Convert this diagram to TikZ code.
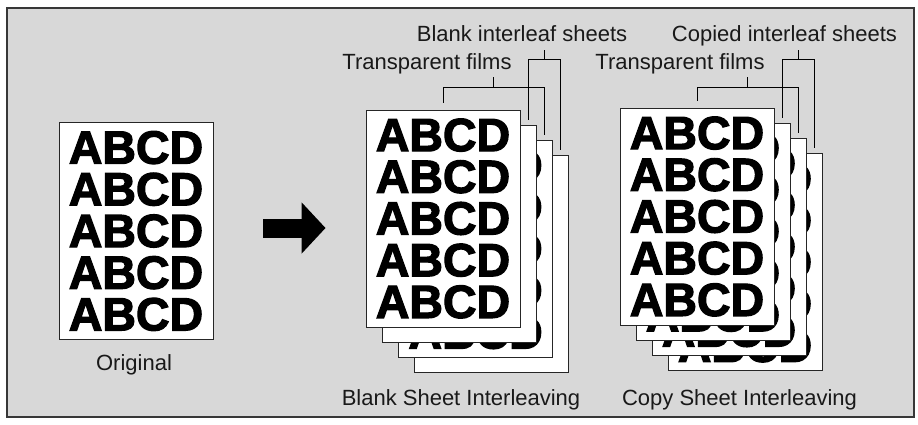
\documentclass[tikz,border=0pt]{standalone}
\usepackage{fontspec}
\setmainfont{Liberation Sans}
\newfontfamily\blockfont[FakeBold=2.6]{Liberation Sans Bold}
\usepackage{tikz}
\usetikzlibrary{positioning,calc,arrows.meta}
\definecolor{panelgrey}{RGB}{216,216,216}
\definecolor{framegrey}{RGB}{55,55,55}

\newcommand{\abcdrows}{ABCD\\ABCD\\ABCD\\ABCD\\ABCD}

\begin{document}
\begin{tikzpicture}[x=1pt, y=-1pt,
  sheet/.style={rectangle, draw=black!85, fill=white, line width=0.9pt, inner sep=0pt,
    minimum width=154pt, minimum height=217pt, align=center,
    font=\blockfont\fontsize{46.5}{41.7}\selectfont},
  label/.style={font=\fontsize{22}{26}\selectfont, text=black!90, inner sep=0pt, anchor=base},
  leader/.style={draw=black, line width=0.9pt},
  bigarrow/.style={-{Triangle[length=24pt,width=50pt]}, line width=19pt}]

  % panel
  \useasboundingbox (0,0) rectangle (918,424);
  \draw[framegrey, line width=2pt, fill=panelgrey] (7,8) rectangle (914,417);

  % original
  \node[sheet] (orig) at (136,231) {\abcdrows};
  \node[label] (origlbl) at (134,370) {Original};

  % blank sheet interleaving (back to front)
  \foreach \i/\txt in {3/{},2/\abcdrows,1/{},0/\abcdrows}
    \node[sheet] (bl\i) at ({443+16.3*\i},{218.5+15.3*\i}) {\txt};
  % copy sheet interleaving
  \foreach \i in {3,2,1,0}
    \node[sheet] (cp\i) at ({697+16*\i},{216.5+15.3*\i}) {\abcdrows};

  \coordinate (arrowstart) at ([xshift=50pt,yshift=3pt]orig.east);
  \coordinate (arrowtip) at ([xshift=-40pt]bl0.west);
  \draw[bigarrow] (arrowstart) -- (arrowtip |- arrowstart);

  % labels
  \node[label] (tfA) at (427,69) {Transparent films};
  \node[label] (biA) at (522,41) {Blank interleaf sheets};
  \node[label] (tfB) at (680,69) {Transparent films};
  \node[label] (ciB) at (784.5,41) {Copied interleaf sheets};
  \node[label] (capA) at (461,405) {Blank Sheet Interleaving};
  \node[label] (capB) at (739.5,405) {Copy Sheet Interleaving};

  % leader lines
  \coordinate (barTF) at (0,87);
  \coordinate (barIS) at (0,59);
  \foreach \s in {bl,cp} {
    \coordinate (\s f0) at ([yshift=7pt]\s0.north);
    \foreach \i in {1,2,3}
      \coordinate (\s f\i) at ([xshift=-8.5pt,yshift=5pt]\s\i.north east);
    \draw[leader] (\s f0) |- (\s f2 |- barTF) -- (\s f2);
    \draw[leader] ($(\s f0 |- barTF)!0.5!(\s f2 |- barTF)$) -- ++(0,-10);
    \draw[leader] (\s f1) |- (\s f3 |- barIS) -- (\s f3);
    \draw[leader] ($(\s f1 |- barIS)!0.5!(\s f3 |- barIS)$) -- ++(0,-9);
  }

\end{tikzpicture}
\end{document}
